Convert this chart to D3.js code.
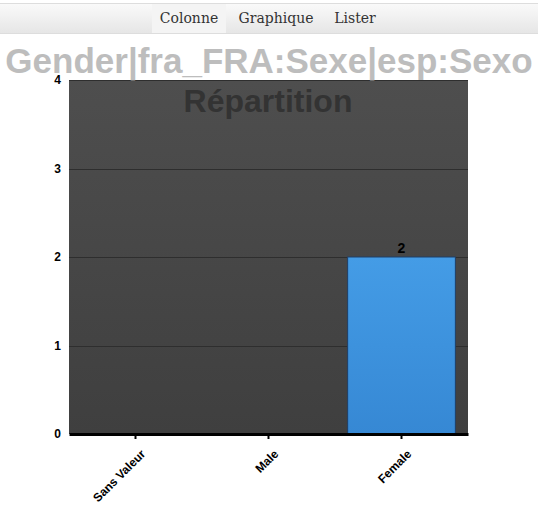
<!DOCTYPE html>
<html><head><meta charset="utf-8">
<script src="https://cdn.jsdelivr.net/npm/d3@7"></script>
<style>body{margin:0;background:#fff;}svg{display:block;}</style>
</head><body><svg width="538" height="510"></svg>
<script>
const categories = ["Sans Valeur", "Male", "Female"];
const values = [0, 0, 2];
const yTicks = [0, 1, 2, 3, 4];
const tabs = ["Colonne", "Graphique", "Lister"];

const svg = d3.select("svg");
const defs = svg.append("defs");
const g1 = defs.append("linearGradient").attr("id","nav").attr("x1",0).attr("y1",0).attr("x2",0).attr("y2",1);
g1.append("stop").attr("offset",0).attr("stop-color","#fafafa");
g1.append("stop").attr("offset",1).attr("stop-color","#e6e6e6");
const g2 = defs.append("linearGradient").attr("id","bg").attr("x1",0).attr("y1",0).attr("x2",0).attr("y2",1);
g2.append("stop").attr("offset",0).attr("stop-color","#4e4e4e");
g2.append("stop").attr("offset",1).attr("stop-color","#3f3f3f");
const g3 = defs.append("linearGradient").attr("id","bar").attr("x1",0).attr("y1",0).attr("x2",0).attr("y2",1);
g3.append("stop").attr("offset",0).attr("stop-color","#449ce6");
g3.append("stop").attr("offset",1).attr("stop-color","#3688d4");

svg.append("rect").attr("x",0).attr("y",3).attr("width",538).attr("height",30).attr("fill","url(#nav)");
svg.append("line").attr("x1",0).attr("x2",538).attr("y1",3.5).attr("y2",3.5).attr("stroke","#ddd");
svg.append("line").attr("x1",0).attr("x2",538).attr("y1",33.5).attr("y2",33.5).attr("stroke","#ddd");
svg.append("rect").attr("x",152).attr("y",4).attr("width",74).attr("height",29).attr("fill","#f4f4f4");
const tabX = [189, 276, 355];
tabs.forEach((t,i)=>svg.append("text").attr("x",tabX[i]).attr("y",23).attr("text-anchor","middle")
  .attr("font-family","DejaVu Serif, serif").attr("font-size",14).attr("fill","#333").text(t));

const m = {l:69, r:468, t:80, b:434};
const x = d3.scaleBand().domain(categories).range([m.l, m.r]).paddingInner(0.19).paddingOuter(0.095);
const y = d3.scaleLinear().domain([0,4]).range([m.b, m.t]);

svg.append("rect").attr("x",m.l).attr("y",m.t).attr("width",m.r-m.l).attr("height",m.b-m.t).attr("fill","url(#bg)");
svg.append("g").selectAll("line").data(yTicks.slice(1)).join("line")
  .attr("x1",m.l).attr("x2",m.r).attr("y1",d=>Math.round(y(d))+0.5).attr("y2",d=>Math.round(y(d))+0.5)
  .attr("stroke","#2e2e2e");

svg.append("text").attr("x",269).attr("y",73).attr("text-anchor","middle")
  .attr("font-family","Liberation Sans, Arial, sans-serif").attr("font-weight","bold").attr("font-size",35)
  .attr("fill","#bdbdbd").text("Gender|fra_FRA:Sexe|esp:Sexo");
svg.append("text").attr("x",268).attr("y",112).attr("text-anchor","middle")
  .attr("font-family","Liberation Sans, Arial, sans-serif").attr("font-weight","bold").attr("font-size",32)
  .attr("fill","#333").text("Répartition");

svg.append("g").selectAll("rect").data(values).join("rect")
  .attr("x",(d,i)=>x(categories[i])).attr("width",x.bandwidth())
  .attr("y",d=>y(d)).attr("height",d=>y(0)-y(d))
  .attr("fill","url(#bar)").attr("stroke","#1f3f66").attr("stroke-width",1);
svg.append("g").selectAll("text").data(values.map((v,i)=>({v,c:categories[i]})).filter(d=>d.v>0)).join("text")
  .attr("x",d=>x(d.c)+x.bandwidth()/2).attr("y",d=>y(d.v)-4)
  .attr("text-anchor","middle").attr("font-family","Liberation Sans, Arial, sans-serif")
  .attr("font-weight","bold").attr("font-size",14).attr("fill","#000").text(d=>d.v);

const ya = svg.append("g").attr("transform",`translate(${m.l},0)`)
  .call(d3.axisLeft(y).tickValues(yTicks).tickFormat(d3.format("d")).tickSize(0).tickPadding(8));
ya.select(".domain").remove();
ya.selectAll("text").attr("font-family","Liberation Sans, Arial, sans-serif").attr("font-weight","bold").attr("font-size",12).attr("fill","#000");

const xa = svg.append("g").attr("transform",`translate(0,${m.b})`)
  .call(d3.axisBottom(x).tickSize(5).tickSizeOuter(0));
xa.select(".domain").attr("stroke","#000").attr("stroke-width",3);
xa.selectAll(".tick line").attr("stroke","#000").attr("stroke-width",2);
xa.selectAll("text").attr("font-family","Liberation Sans, Arial, sans-serif").attr("font-weight","bold").attr("font-size",12)
  .attr("fill","#000").attr("text-anchor","end").attr("dy",0).attr("transform","translate(5,15) rotate(-45)");
</script></body></html>
